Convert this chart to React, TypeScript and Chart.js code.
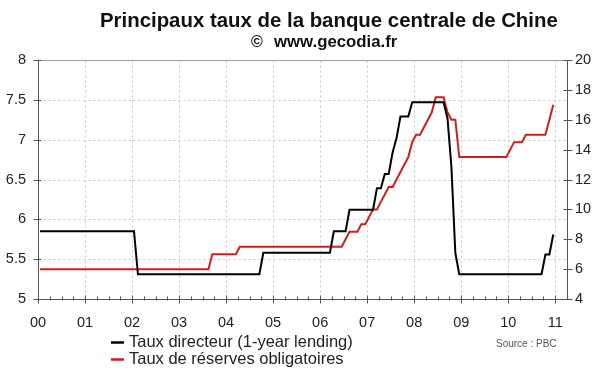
import React, { useEffect, useRef } from "react";
import { Chart, registerables } from "chart.js";

Chart.register(...registerables);

const TITLE = "Principaux taux de la banque centrale de Chine";
const SUBTITLE = "www.gecodia.fr";
const SOURCE = "Source : PBC";

const yearTicks = [2000, 2001, 2002, 2003, 2004, 2005, 2006, 2007, 2008, 2009, 2010, 2011];
const yearLabels = ["00", "01", "02", "03", "04", "05", "06", "07", "08", "09", "10", "11"];

// Taux directeur (1-year lending) — monthly values at change points
const policyMonths = [
  "2000-01", "2002-01", "2002-02", "2004-09", "2004-10", "2006-03", "2006-04",
  "2006-07", "2006-08", "2007-02", "2007-03", "2007-04", "2007-05", "2007-06",
  "2007-07", "2007-08", "2007-09", "2007-11", "2007-12", "2008-08", "2008-09",
  "2008-10", "2008-11", "2008-12", "2010-09", "2010-10", "2010-11", "2010-12",
];
const policyRates = [
  5.85, 5.85, 5.31, 5.31, 5.58, 5.58, 5.85,
  5.85, 6.12, 6.12, 6.39, 6.39, 6.57, 6.57,
  6.84, 7.02, 7.29, 7.29, 7.47, 7.47, 7.27,
  6.66, 5.58, 5.31, 5.31, 5.56, 5.56, 5.81,
];

// Taux de réserves obligatoires — monthly values at change points
const reserveMonths = [
  "2000-01", "2003-08", "2003-09", "2004-03", "2004-04", "2006-06", "2006-07",
  "2006-08", "2006-10", "2006-11", "2006-12", "2007-01", "2007-02", "2007-03",
  "2007-04", "2007-05", "2007-06", "2007-07", "2007-08", "2007-09", "2007-10",
  "2007-11", "2007-12", "2008-01", "2008-02", "2008-03", "2008-04", "2008-05",
  "2008-06", "2008-08", "2008-09", "2008-10", "2008-11", "2008-12", "2009-12",
  "2010-01", "2010-02", "2010-04", "2010-05", "2010-10", "2010-11", "2010-12",
];
const reserveRates = [
  6, 6, 7, 7, 7.5, 7.5, 8,
  8.5, 8.5, 9, 9, 9.5, 10, 10,
  10.5, 11, 11.5, 11.5, 12, 12.5, 13,
  13.5, 14.5, 15, 15, 15.5, 16, 16.5,
  17.5, 17.5, 16.5, 16, 16, 13.5, 13.5,
  14, 14.5, 14.5, 15, 15, 16, 17,
];

const SERIES_NAMES = ["Taux directeur (1-year lending)", "Taux de réserves obligatoires"];
const SERIES_COLORS = ["#000000", "#cc1f1f"];

const FONT = "'Liberation Sans', Arial, sans-serif";

const monthToX = (s: string) => {
  const [y, m] = s.split("-").map(Number);
  return y + (m - 0.5) / 12;
};

const toPoints = (months: string[], values: number[]) =>
  months.map((m, i) => ({ x: monthToX(m), y: values[i] }));

const framePlugin = {
  id: "frame",
  beforeDatasetsDraw(chart: any) {
    const { ctx, chartArea: a, scales } = chart;
    const sx = scales.x;
    const sy = scales.y;
    const sy2 = scales.y2;
    const L = a.left + 0.5;
    const R = Math.round(a.right) + 0.5;
    const T = a.top + 0.5;
    const B = Math.round(a.bottom) + 0.5;
    const seg = (x1: number, y1: number, x2: number, y2: number) => {
      ctx.beginPath();
      ctx.moveTo(x1, y1);
      ctx.lineTo(x2, y2);
      ctx.stroke();
    };
    ctx.save();
    // dashed grid
    ctx.strokeStyle = "#c6c6c6";
    ctx.lineWidth = 1;
    ctx.setLineDash([2, 3]);
    sx.ticks.forEach((t: any) => {
      if (t.value === sx.min) return;
      const px = Math.round(sx.getPixelForValue(t.value)) + 0.5;
      seg(px, T, px, B);
    });
    sy.ticks.forEach((t: any) => {
      if (t.value === sy.min || t.value === sy.max) return;
      const py = Math.round(sy.getPixelForValue(t.value)) + 0.5;
      seg(L, py, R, py);
    });
    ctx.setLineDash([]);
    // top border
    ctx.strokeStyle = "#a0a0a0";
    seg(L, T, R, T);
    // axes
    ctx.strokeStyle = "#555555";
    seg(L, T, L, B);
    seg(R, T, R, B);
    seg(L, B, R, B);
    // left ticks
    sy.ticks.forEach((t: any) => {
      const py = Math.round(sy.getPixelForValue(t.value)) + 0.5;
      seg(L - 5, py, L + 3, py);
    });
    // right ticks
    sy2.ticks.forEach((t: any) => {
      const py = Math.round(sy2.getPixelForValue(t.value)) + 0.5;
      seg(R - 4, py, R + 5, py);
    });
    // x major ticks
    sx.ticks.forEach((t: any) => {
      const px = Math.round(sx.getPixelForValue(t.value)) + 0.5;
      seg(px, B - 4, px, B + 4);
    });
    // x minor ticks (quarters)
    sx.ticks.forEach((t: any) => {
      [0.25, 0.5, 0.75].forEach((q) => {
        const v = t.value + q;
        if (v >= sx.max) return;
        const px = Math.round(sx.getPixelForValue(v)) + 0.5;
        seg(px, B - 3, px, B + 1);
      });
    });
    ctx.restore();
  },
  afterDraw(chart: any) {
    const { ctx } = chart;
    ctx.save();
    ctx.fillStyle = "#111111";
    ctx.textBaseline = "alphabetic";
    ctx.textAlign = "left";
    ctx.font = `bold 20.4px ${FONT}`;
    ctx.fillText(TITLE, 100, 27);
    ctx.font = `bold 16px ${FONT}`;
    ctx.fillText("©", 251, 47);
    ctx.font = `bold 16.8px ${FONT}`;
    ctx.fillText(SUBTITLE, 274, 47);

    // legend
    chart.data.datasets.forEach((ds: any, i: number) => {
      const cy = 342.5 + i * 17;
      ctx.strokeStyle = ds.borderColor;
      ctx.lineWidth = 2.5;
      ctx.beginPath();
      ctx.moveTo(111, cy);
      ctx.lineTo(124, cy);
      ctx.stroke();
      ctx.fillStyle = "#222222";
      ctx.font = `16.5px ${FONT}`;
      ctx.textBaseline = "middle";
      ctx.fillText(ds.label, 129, cy);
    });

    ctx.fillStyle = "#555555";
    ctx.font = `10px ${FONT}`;
    ctx.textBaseline = "middle";
    ctx.fillText(SOURCE, 496, 344);
    ctx.restore();
  },
};

export default function App() {
  const ref = useRef<HTMLCanvasElement | null>(null);

  useEffect(() => {
    document.body.style.margin = "0";
    if (!ref.current) return;
    const tickFont = { family: FONT, size: 14.5 };
    const chart = new Chart(ref.current, {
      type: "line",
      data: {
        datasets: [
          {
            label: SERIES_NAMES[0],
            data: toPoints(policyMonths, policyRates),
            borderColor: SERIES_COLORS[0],
            backgroundColor: SERIES_COLORS[0],
            borderWidth: 2,
            pointRadius: 0,
            tension: 0,
            yAxisID: "y",
          },
          {
            label: SERIES_NAMES[1],
            data: toPoints(reserveMonths, reserveRates),
            borderColor: SERIES_COLORS[1],
            backgroundColor: SERIES_COLORS[1],
            borderWidth: 2,
            pointRadius: 0,
            tension: 0,
            yAxisID: "y2",
          },
        ],
      },
      options: {
        animation: false,
        responsive: true,
        maintainAspectRatio: false,
        layout: { padding: { top: 60, bottom: 33, left: 0, right: 0 } },
        plugins: {
          legend: { display: false },
          title: { display: false },
          tooltip: { enabled: false },
        },
        scales: {
          x: {
            type: "linear",
            min: 2000,
            max: 2011.25,
            grid: { display: false, drawTicks: false },
            border: { display: false },
            afterBuildTicks: (s: any) => {
              s.ticks = yearTicks.map((v) => ({ value: v }));
            },
            afterFit: (s: any) => {
              s.height = 40;
            },
            ticks: {
              autoSkip: false,
              maxRotation: 0,
              padding: 15,
              color: "#222222",
              font: tickFont,
              callback: (_v: any, i: number) => yearLabels[i],
            },
          },
          y: {
            position: "left",
            min: 5,
            max: 8,
            grid: { display: false, drawTicks: false },
            border: { display: false },
            afterFit: (s: any) => {
              s.width = 38;
            },
            ticks: {
              stepSize: 0.5,
              padding: 12,
              color: "#222222",
              font: tickFont,
              callback: (v: any) => String(Math.round(v * 10) / 10),
            },
          },
          y2: {
            position: "right",
            min: 4,
            max: 20,
            grid: { display: false, drawTicks: false },
            border: { display: false },
            afterFit: (s: any) => {
              s.width = 33;
            },
            ticks: {
              stepSize: 2,
              padding: 8,
              color: "#222222",
              font: tickFont,
              callback: (v: any) => String(v),
            },
          },
        },
      },
      plugins: [framePlugin],
    });
    return () => chart.destroy();
  }, []);

  return (
    <div style={{ width: 600, height: 372, position: "relative", background: "#ffffff" }}>
      <canvas ref={ref} />
    </div>
  );
}
